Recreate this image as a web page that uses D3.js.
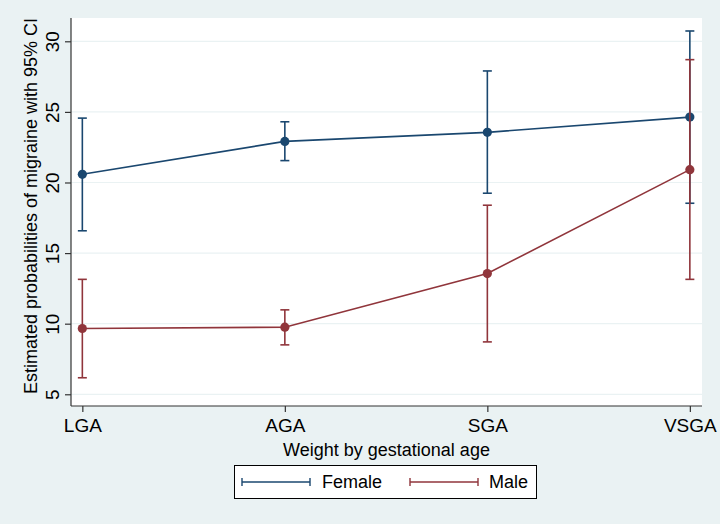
<!DOCTYPE html>
<html><head><meta charset="utf-8">
<script src="https://cdn.jsdelivr.net/npm/d3@7"></script>
<style>
html,body{margin:0;padding:0;background:#eaf2f3;}
text{font-family:"Liberation Sans Narrow","Arial Narrow","Liberation Sans",sans-serif;fill:#000;}
</style></head>
<body>
<svg id="chart" width="720" height="524"></svg>
<script>
const categories = ["LGA","AGA","SGA","VSGA"];
const femaleEst = [20.58, 22.91, 23.55, 24.63];
const femaleLo  = [16.58, 21.55, 19.24, 18.53];
const femaleHi  = [24.56, 24.30, 27.90, 30.73];
const maleEst   = [9.66, 9.75, 13.55, 20.91];
const maleLo    = [6.17, 8.50, 8.71, 13.14];
const maleHi    = [13.14, 10.98, 18.39, 28.70];
const yTicks    = [5, 10, 15, 20, 25, 30];
const seriesNames = ["Female","Male"];

const colors = {Female:"#1a476f", Male:"#90353b"};
const svg = d3.select("#chart");
svg.append("rect").attr("width",720).attr("height",524).attr("fill","#eaf2f3");

const plot = {left:71, right:702, top:18, bottom:406};
svg.append("rect").attr("x",plot.left).attr("y",plot.top)
  .attr("width",plot.right-plot.left).attr("height",plot.bottom-plot.top).attr("fill","#fff");

const x = d3.scaleLinear().domain([0.944, 4.06]).range([plot.left, plot.right]);
const y = d3.scaleLinear().domain([4.17, 31.65]).range([plot.bottom, plot.top]);

// gridlines
svg.append("g").selectAll("line").data(yTicks).join("line")
  .attr("x1",plot.left).attr("x2",plot.right)
  .attr("y1",d=>y(d)).attr("y2",d=>y(d))
  .attr("stroke","#eaf2f3").attr("stroke-width",1.2);

// y axis
const yAxis = svg.append("g").attr("transform",`translate(${plot.left},0)`)
  .call(d3.axisLeft(y).tickValues(yTicks).tickSize(6).tickPadding(0).tickFormat(d3.format("d")));
yAxis.select(".domain").attr("d",`M0,${plot.top}V${plot.bottom}`).attr("stroke","#333").attr("stroke-width",1.2);
yAxis.selectAll(".tick line").attr("stroke","#333").attr("stroke-width",1.2);
yAxis.selectAll(".tick text")
  .attr("x",0).attr("y",0).attr("dy",0)
  .attr("transform","translate(-12,0) rotate(-90)")
  .attr("text-anchor","middle")
  .style("font-size","19px").attr("fill","#000");

// x axis
const xAxis = svg.append("g").attr("transform",`translate(0,${plot.bottom})`)
  .call(d3.axisBottom(x).tickValues([1,2,3,4]).tickSize(6).tickPadding(3)
    .tickFormat((d,i)=>categories[i]));
xAxis.select(".domain").attr("d",`M${plot.left},0H${plot.right}`).attr("stroke","#333").attr("stroke-width",1.2);
xAxis.selectAll(".tick line").attr("stroke","#333").attr("stroke-width",1.2);
xAxis.selectAll(".tick text").style("font-size","19px").attr("fill","#000").attr("dy","0.9em");

// axis titles
svg.append("text").attr("x",(plot.left+plot.right)/2).attr("y",456)
  .attr("text-anchor","middle").style("font-size","18px").text("Weight by gestational age");
svg.append("text").attr("transform",`translate(37,${(plot.top+plot.bottom)/2-6}) rotate(-90)`)
  .attr("text-anchor","middle").style("font-size","18px").text("Estimated probabilities of migraine with 95% CI");

// series
const series = [
  {name:"Female", est:femaleEst, lo:femaleLo, hi:femaleHi},
  {name:"Male", est:maleEst, lo:maleLo, hi:maleHi}
];
const capW = 4.5;
series.forEach(s=>{
  const c = colors[s.name];
  const g = svg.append("g");
  const pts = s.est.map((v,i)=>({i:i+1, v, lo:s.lo[i], hi:s.hi[i]}));
  pts.forEach(p=>{
    g.append("line").attr("x1",x(p.i)).attr("x2",x(p.i)).attr("y1",y(p.lo)).attr("y2",y(p.hi))
      .attr("stroke",c).attr("stroke-width",1.6);
    [p.lo,p.hi].forEach(v=>{
      g.append("line").attr("x1",x(p.i)-capW).attr("x2",x(p.i)+capW).attr("y1",y(v)).attr("y2",y(v))
        .attr("stroke",c).attr("stroke-width",1.6);
    });
  });
  g.append("path").datum(pts)
    .attr("d",d3.line().x(d=>x(d.i)).y(d=>y(d.v)))
    .attr("fill","none").attr("stroke",c).attr("stroke-width",1.6);
  g.selectAll("circle").data(pts).join("circle")
    .attr("cx",d=>x(d.i)).attr("cy",d=>y(d.v)).attr("r",4.6).attr("fill",c);
});

// legend
const leg = svg.append("g");
leg.append("rect").attr("x",234.5).attr("y",465.5).attr("width",302).attr("height",33)
  .attr("fill","#fff").attr("stroke","#000").attr("stroke-width",1);
const legItems = [{name:seriesNames[0], x1:242, x2:310, tx:322},{name:seriesNames[1], x1:410, x2:478, tx:489}];
legItems.forEach(it=>{
  const c = colors[it.name], yy = 482;
  leg.append("line").attr("x1",it.x1).attr("x2",it.x2).attr("y1",yy).attr("y2",yy).attr("stroke",c).attr("stroke-width",1.4);
  [it.x1,it.x2].forEach(xx=>leg.append("line").attr("x1",xx).attr("x2",xx).attr("y1",yy-4).attr("y2",yy+4).attr("stroke",c).attr("stroke-width",1.4));
  leg.append("text").attr("x",it.tx).attr("y",yy).attr("dy","0.35em").style("font-size","18px").text(it.name);
});
</script>
</body></html>
